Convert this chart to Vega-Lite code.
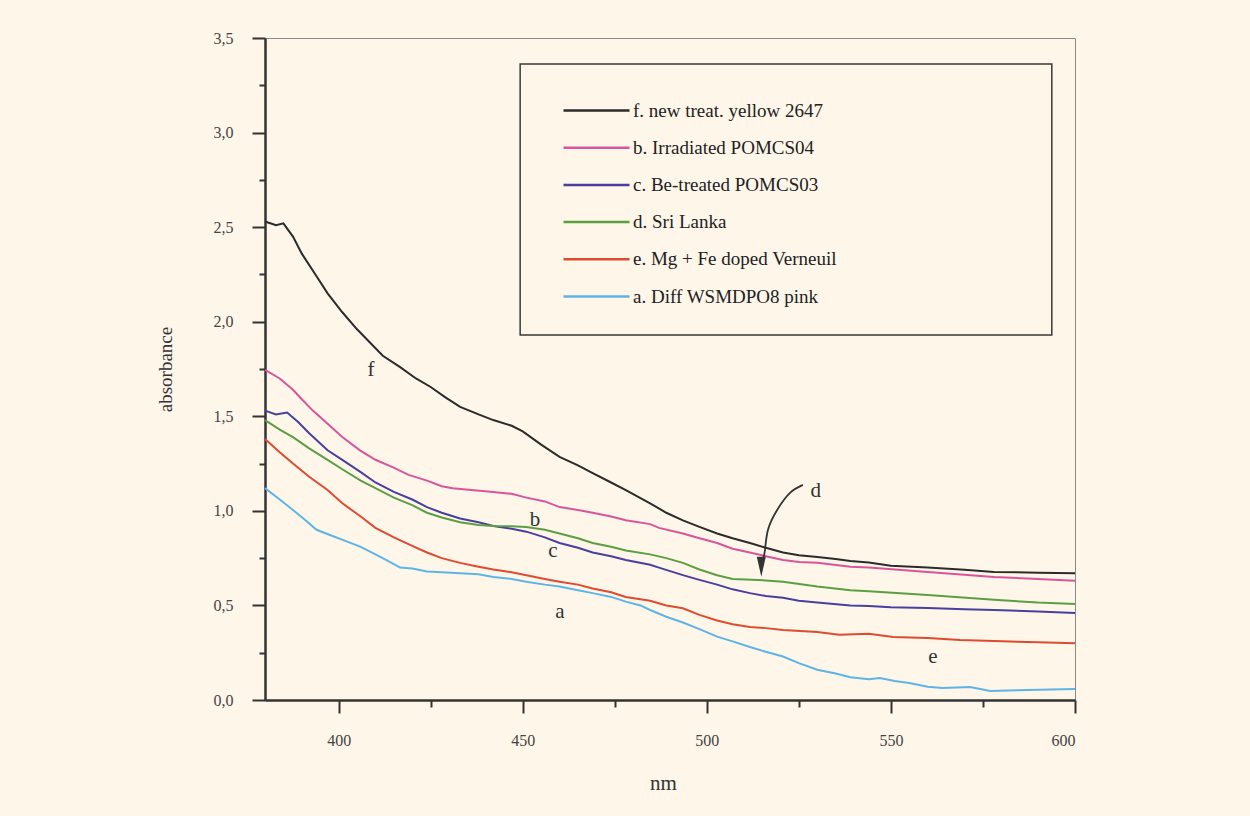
{
  "$schema": "https://vega.github.io/schema/vega-lite/v6.json",
  "width": 810,
  "height": 662,
  "autosize": {"type": "none"},
  "padding": {"left": 265, "top": 38, "right": 175, "bottom": 116},
  "background": "#fdf6e9",
  "config": {
    "view": {"stroke": "#8a8a8a", "strokeWidth": 1},
    "font": "Liberation Serif",
    "axis": {"grid": false}
  },
  "datasets": {
    "curves": [
      {"s":"f","x":380,"y":2.53},{"s":"f","x":383,"y":2.51},{"s":"f","x":385,"y":2.52},{"s":"f","x":387.6,"y":2.45},{"s":"f","x":390,"y":2.36},{"s":"f","x":394,"y":2.24},{"s":"f","x":397,"y":2.15},{"s":"f","x":401,"y":2.05},{"s":"f","x":405,"y":1.96},{"s":"f","x":408.5,"y":1.89},{"s":"f","x":412,"y":1.82},{"s":"f","x":416.7,"y":1.76},{"s":"f","x":421,"y":1.7},{"s":"f","x":425,"y":1.655},{"s":"f","x":429,"y":1.6},{"s":"f","x":433,"y":1.55},{"s":"f","x":438,"y":1.51},{"s":"f","x":442,"y":1.48},{"s":"f","x":447,"y":1.45},{"s":"f","x":450,"y":1.42},{"s":"f","x":455,"y":1.35},{"s":"f","x":460,"y":1.285},{"s":"f","x":465,"y":1.24},{"s":"f","x":469,"y":1.2},{"s":"f","x":474,"y":1.15},{"s":"f","x":478,"y":1.11},{"s":"f","x":484.6,"y":1.04},{"s":"f","x":489,"y":0.99},{"s":"f","x":493.5,"y":0.95},{"s":"f","x":498,"y":0.915},{"s":"f","x":502.8,"y":0.88},{"s":"f","x":507,"y":0.855},{"s":"f","x":511.7,"y":0.83},{"s":"f","x":516,"y":0.805},{"s":"f","x":520.7,"y":0.78},{"s":"f","x":525,"y":0.765},{"s":"f","x":530,"y":0.756},{"s":"f","x":535,"y":0.745},{"s":"f","x":539,"y":0.735},{"s":"f","x":544,"y":0.727},{"s":"f","x":550,"y":0.71},{"s":"f","x":560,"y":0.7},{"s":"f","x":570,"y":0.688},{"s":"f","x":578,"y":0.677},{"s":"f","x":590,"y":0.673},{"s":"f","x":600,"y":0.67},
      {"s":"b","x":380,"y":1.745},{"s":"b","x":384,"y":1.7},{"s":"b","x":387.6,"y":1.64},{"s":"b","x":390,"y":1.59},{"s":"b","x":393,"y":1.53},{"s":"b","x":397,"y":1.46},{"s":"b","x":401,"y":1.39},{"s":"b","x":405.8,"y":1.32},{"s":"b","x":410,"y":1.27},{"s":"b","x":414.8,"y":1.23},{"s":"b","x":419,"y":1.19},{"s":"b","x":424,"y":1.16},{"s":"b","x":428,"y":1.13},{"s":"b","x":431,"y":1.12},{"s":"b","x":436,"y":1.11},{"s":"b","x":442,"y":1.1},{"s":"b","x":447,"y":1.09},{"s":"b","x":451,"y":1.07},{"s":"b","x":456,"y":1.05},{"s":"b","x":460,"y":1.02},{"s":"b","x":465,"y":1.005},{"s":"b","x":469,"y":0.99},{"s":"b","x":474,"y":0.97},{"s":"b","x":478,"y":0.95},{"s":"b","x":484.6,"y":0.93},{"s":"b","x":487,"y":0.91},{"s":"b","x":493.5,"y":0.88},{"s":"b","x":498,"y":0.855},{"s":"b","x":502.8,"y":0.83},{"s":"b","x":507,"y":0.8},{"s":"b","x":511.7,"y":0.78},{"s":"b","x":516,"y":0.76},{"s":"b","x":520.7,"y":0.74},{"s":"b","x":525,"y":0.73},{"s":"b","x":530,"y":0.725},{"s":"b","x":539,"y":0.705},{"s":"b","x":544,"y":0.7},{"s":"b","x":560,"y":0.677},{"s":"b","x":578,"y":0.65},{"s":"b","x":590,"y":0.64},{"s":"b","x":600,"y":0.63},
      {"s":"c","x":380,"y":1.53},{"s":"c","x":383,"y":1.51},{"s":"c","x":386,"y":1.52},{"s":"c","x":389,"y":1.47},{"s":"c","x":392,"y":1.41},{"s":"c","x":397,"y":1.32},{"s":"c","x":401,"y":1.27},{"s":"c","x":406,"y":1.205},{"s":"c","x":410,"y":1.15},{"s":"c","x":415,"y":1.1},{"s":"c","x":420,"y":1.06},{"s":"c","x":424,"y":1.02},{"s":"c","x":428,"y":0.99},{"s":"c","x":433,"y":0.96},{"s":"c","x":438,"y":0.94},{"s":"c","x":442,"y":0.92},{"s":"c","x":447,"y":0.905},{"s":"c","x":451,"y":0.89},{"s":"c","x":456,"y":0.86},{"s":"c","x":460,"y":0.83},{"s":"c","x":465,"y":0.805},{"s":"c","x":469,"y":0.78},{"s":"c","x":474,"y":0.76},{"s":"c","x":478,"y":0.74},{"s":"c","x":484.6,"y":0.715},{"s":"c","x":487,"y":0.7},{"s":"c","x":493.5,"y":0.66},{"s":"c","x":498,"y":0.635},{"s":"c","x":502.8,"y":0.61},{"s":"c","x":507,"y":0.585},{"s":"c","x":511.7,"y":0.565},{"s":"c","x":516,"y":0.55},{"s":"c","x":520.7,"y":0.54},{"s":"c","x":525,"y":0.525},{"s":"c","x":530,"y":0.515},{"s":"c","x":539,"y":0.5},{"s":"c","x":544,"y":0.497},{"s":"c","x":550,"y":0.49},{"s":"c","x":560,"y":0.487},{"s":"c","x":570,"y":0.48},{"s":"c","x":578,"y":0.476},{"s":"c","x":590,"y":0.468},{"s":"c","x":600,"y":0.46},
      {"s":"d","x":380,"y":1.48},{"s":"d","x":384,"y":1.43},{"s":"d","x":387.6,"y":1.39},{"s":"d","x":392,"y":1.33},{"s":"d","x":397,"y":1.27},{"s":"d","x":401,"y":1.22},{"s":"d","x":406,"y":1.16},{"s":"d","x":410,"y":1.12},{"s":"d","x":415,"y":1.07},{"s":"d","x":420,"y":1.03},{"s":"d","x":424,"y":0.99},{"s":"d","x":428,"y":0.965},{"s":"d","x":433,"y":0.94},{"s":"d","x":438,"y":0.925},{"s":"d","x":442,"y":0.92},{"s":"d","x":447,"y":0.918},{"s":"d","x":451,"y":0.915},{"s":"d","x":456,"y":0.9},{"s":"d","x":460,"y":0.88},{"s":"d","x":465,"y":0.855},{"s":"d","x":469,"y":0.83},{"s":"d","x":474,"y":0.81},{"s":"d","x":478,"y":0.79},{"s":"d","x":484.6,"y":0.77},{"s":"d","x":489,"y":0.75},{"s":"d","x":493.5,"y":0.725},{"s":"d","x":498,"y":0.69},{"s":"d","x":502.8,"y":0.66},{"s":"d","x":507,"y":0.64},{"s":"d","x":514,"y":0.635},{"s":"d","x":520.7,"y":0.625},{"s":"d","x":530,"y":0.6},{"s":"d","x":539,"y":0.58},{"s":"d","x":544,"y":0.575},{"s":"d","x":560,"y":0.555},{"s":"d","x":578,"y":0.53},{"s":"d","x":590,"y":0.515},{"s":"d","x":600,"y":0.507},
      {"s":"e","x":380,"y":1.38},{"s":"e","x":384,"y":1.31},{"s":"e","x":387.6,"y":1.25},{"s":"e","x":392,"y":1.18},{"s":"e","x":397,"y":1.11},{"s":"e","x":401,"y":1.04},{"s":"e","x":406,"y":0.97},{"s":"e","x":410,"y":0.91},{"s":"e","x":415,"y":0.86},{"s":"e","x":420,"y":0.815},{"s":"e","x":424,"y":0.78},{"s":"e","x":428,"y":0.75},{"s":"e","x":433,"y":0.725},{"s":"e","x":438,"y":0.705},{"s":"e","x":442,"y":0.69},{"s":"e","x":447,"y":0.675},{"s":"e","x":451,"y":0.66},{"s":"e","x":456,"y":0.64},{"s":"e","x":460,"y":0.625},{"s":"e","x":465,"y":0.61},{"s":"e","x":469,"y":0.59},{"s":"e","x":474,"y":0.57},{"s":"e","x":478,"y":0.545},{"s":"e","x":484.6,"y":0.525},{"s":"e","x":489,"y":0.5},{"s":"e","x":493.5,"y":0.485},{"s":"e","x":498,"y":0.45},{"s":"e","x":502.8,"y":0.42},{"s":"e","x":507,"y":0.4},{"s":"e","x":511.7,"y":0.386},{"s":"e","x":516,"y":0.38},{"s":"e","x":520.7,"y":0.37},{"s":"e","x":530,"y":0.36},{"s":"e","x":536,"y":0.345},{"s":"e","x":544,"y":0.35},{"s":"e","x":550.6,"y":0.333},{"s":"e","x":560,"y":0.328},{"s":"e","x":568.8,"y":0.317},{"s":"e","x":578,"y":0.312},{"s":"e","x":590,"y":0.305},{"s":"e","x":600,"y":0.3},
      {"s":"a","x":380,"y":1.12},{"s":"a","x":384,"y":1.06},{"s":"a","x":387.6,"y":1.005},{"s":"a","x":391,"y":0.95},{"s":"a","x":394,"y":0.9},{"s":"a","x":398,"y":0.87},{"s":"a","x":402,"y":0.84},{"s":"a","x":406,"y":0.81},{"s":"a","x":410,"y":0.77},{"s":"a","x":413,"y":0.74},{"s":"a","x":416.7,"y":0.7},{"s":"a","x":420,"y":0.695},{"s":"a","x":424,"y":0.68},{"s":"a","x":428,"y":0.675},{"s":"a","x":433,"y":0.67},{"s":"a","x":438,"y":0.665},{"s":"a","x":442,"y":0.65},{"s":"a","x":447,"y":0.64},{"s":"a","x":451,"y":0.625},{"s":"a","x":456,"y":0.61},{"s":"a","x":460,"y":0.6},{"s":"a","x":465,"y":0.58},{"s":"a","x":469,"y":0.565},{"s":"a","x":474,"y":0.545},{"s":"a","x":478,"y":0.52},{"s":"a","x":482,"y":0.5},{"s":"a","x":484.6,"y":0.476},{"s":"a","x":489,"y":0.44},{"s":"a","x":493.5,"y":0.41},{"s":"a","x":498,"y":0.375},{"s":"a","x":502.8,"y":0.335},{"s":"a","x":507,"y":0.31},{"s":"a","x":511.7,"y":0.28},{"s":"a","x":516,"y":0.255},{"s":"a","x":520.7,"y":0.23},{"s":"a","x":525,"y":0.195},{"s":"a","x":530,"y":0.16},{"s":"a","x":535,"y":0.14},{"s":"a","x":539,"y":0.12},{"s":"a","x":544,"y":0.11},{"s":"a","x":547,"y":0.116},{"s":"a","x":551,"y":0.1},{"s":"a","x":555,"y":0.09},{"s":"a","x":560,"y":0.07},{"s":"a","x":564,"y":0.063},{"s":"a","x":571.5,"y":0.069},{"s":"a","x":577,"y":0.048},{"s":"a","x":587,"y":0.053},{"s":"a","x":600,"y":0.058}
    ],
    "labels": [
      {"t":"f","x":408.8,"y":1.745},
      {"t":"b","x":453.3,"y":0.95},
      {"t":"c","x":458.2,"y":0.79},
      {"t":"a","x":460.1,"y":0.465},
      {"t":"e","x":561.4,"y":0.227},
      {"t":"d","x":529.6,"y":1.105}
    ],
    "arrow": [
      {"x":526.1,"y":1.137},{"x":522.6,"y":1.095},{"x":519.1,"y":1.005},{"x":516.6,"y":0.899},{"x":515.8,"y":0.793},{"x":515.3,"y":0.75}
    ],
    "head": [{"x":514.8,"y":0.705}],
    "box": [{"x":449.3,"x2":593.7,"y":1.93,"y2":3.363}]
  },
  "resolve": {"axis": {"x": "independent", "y": "independent"}},
  "layer": [
    {
      "data": {"name": "box"},
      "mark": {"type": "rect", "fill": null, "stroke": "#3a3a3a", "strokeWidth": 1.5},
      "encoding": {
        "x": {"field": "x", "type": "quantitative", "scale": {"domain": [380, 600], "nice": false, "zero": false},
          "axis": {"orient": "bottom", "values": [425, 475, 525, 575], "labels": false, "domain": false, "tickSize": 7, "tickWidth": 2, "tickColor": "#333", "title": null}},
        "x2": {"field": "x2"},
        "y": {"field": "y", "type": "quantitative", "scale": {"domain": [0, 3.5], "nice": false, "zero": false},
          "axis": {"orient": "left", "values": [0.25, 0.75, 1.25, 1.75, 2.25, 2.75, 3.25], "labels": false, "domain": false, "tickSize": 6, "tickWidth": 2, "tickColor": "#333", "title": null}},
        "y2": {"field": "y2"}
      }
    },
    {
      "data": {"name": "curves"},
      "mark": {"type": "line", "strokeWidth": 2},
      "encoding": {
        "x": {"field": "x", "type": "quantitative",
          "axis": {"orient": "bottom", "values": [400, 450, 500, 550, 600], "tickSize": 13, "tickWidth": 2, "tickColor": "#333", "domainColor": "#333", "domainWidth": 2.5,
            "labelFont": "Liberation Serif", "labelFontSize": 16, "labelColor": "#444", "labelPadding": 19,
            "title": "nm", "titleFont": "Liberation Serif", "titleFontSize": 21, "titleFontWeight": "normal", "titleColor": "#333",
            "titleX": 398, "titleY": 83, "titleBaseline": "middle", "titleAlign": "center"}},
        "y": {"field": "y", "type": "quantitative",
          "axis": {"orient": "left", "values": [0, 0.5, 1, 1.5, 2, 2.5, 3, 3.5], "tickSize": 13, "tickWidth": 2, "tickColor": "#333", "domainColor": "#333", "domainWidth": 2.5,
            "labelExpr": "replace(format(datum.value, '.1f'), '.', ',')", "labelFont": "Liberation Serif", "labelFontSize": 16, "labelColor": "#444", "labelPadding": 19,
            "title": "absorbance", "titleFont": "Liberation Serif", "titleFontSize": 19, "titleFontWeight": "normal", "titleColor": "#333",
            "titleX": -100, "titleY": 331, "titleAngle": -90, "titleBaseline": "middle", "titleAlign": "center"}},
        "color": {"field": "s", "type": "nominal",
          "scale": {"domain": ["f", "b", "c", "d", "e", "a"], "range": ["#2b2b2b", "#d9559b", "#4a3f9e", "#5c9e42", "#dd4b30", "#5fb4e6"]},
          "legend": {"orient": "none", "legendX": 319, "legendY": 60, "title": null, "padding": 0,
            "symbolType": "M-3,0H3", "symbolSize": 484, "symbolStrokeWidth": 2.5, "symbolFillColor": "transparent", "labelOffset": 24,
            "labelFont": "Liberation Serif", "labelFontSize": 19, "labelColor": "#222", "rowPadding": 14.2,
            "labelLimit": 400,
            "labelExpr": "{'f':'f. new treat. yellow 2647','b':'b. Irradiated POMCS04','c':'c. Be-treated POMCS03','d':'d. Sri Lanka','e':'e. Mg + Fe doped Verneuil','a':'a. Diff WSMDPO8 pink'}[datum.label]"}}
      }
    },
    {
      "data": {"name": "labels"},
      "mark": {"type": "text", "font": "Liberation Serif", "fontSize": 21, "color": "#333", "baseline": "middle", "align": "center"},
      "encoding": {
        "x": {"field": "x", "type": "quantitative", "axis": null},
        "y": {"field": "y", "type": "quantitative", "axis": null},
        "text": {"field": "t"}
      }
    },
    {
      "data": {"name": "arrow"},
      "mark": {"type": "line", "interpolate": "natural", "color": "#333", "strokeWidth": 1.8},
      "encoding": {
        "x": {"field": "x", "type": "quantitative", "axis": null},
        "y": {"field": "y", "type": "quantitative", "axis": null}
      }
    },
    {
      "data": {"name": "head"},
      "mark": {"type": "point", "shape": "M-0.45,-1L0.45,-1L0,1Z", "size": 400, "filled": true, "color": "#333", "opacity": 1},
      "encoding": {
        "x": {"field": "x", "type": "quantitative", "axis": null},
        "y": {"field": "y", "type": "quantitative", "axis": null}
      }
    }
  ]
}
